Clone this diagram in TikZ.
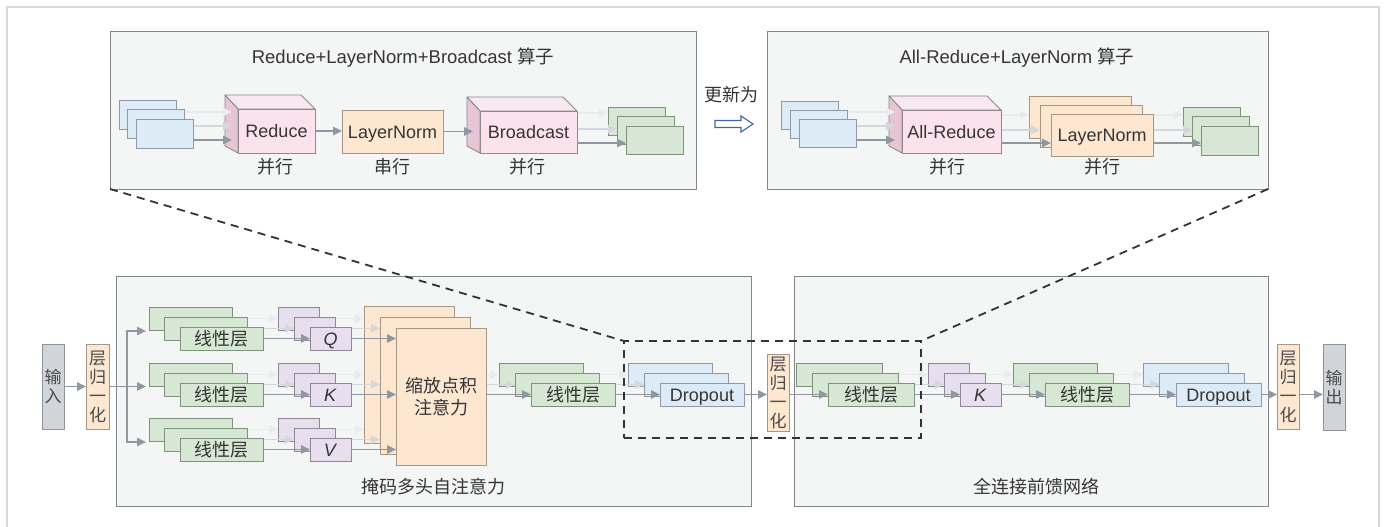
\documentclass[tikz,border=0pt]{standalone}
\usepackage{fontspec}
\setmainfont{Liberation Sans}
\newfontfamily\cjk{Noto Sans CJK SC}
\usetikzlibrary{arrows.meta,calc}

\definecolor{cFrame}{HTML}{D9D9D9}
\definecolor{cPanelF}{HTML}{F4F5F5}
\definecolor{cPanelD}{HTML}{80868A}
\definecolor{cBlueF}{HTML}{DCEBF6}
\definecolor{cBlueD}{HTML}{8D9BA8}
\definecolor{cGrF}{HTML}{D6E8D3}
\definecolor{cGrD}{HTML}{7E927D}
\definecolor{cPuF}{HTML}{E8DFEE}
\definecolor{cPuD}{HTML}{8E8796}
\definecolor{cOrF}{HTML}{FDE7D1}
\definecolor{cOrD}{HTML}{A59787}
\definecolor{cCubeF}{HTML}{FBE2EC}
\definecolor{cCubeS}{HTML}{E8C5D4}
\definecolor{cCubeT}{HTML}{F8E8EF}
\definecolor{cCubeD}{HTML}{8E8A8C}
\definecolor{cInF}{HTML}{D1D4D9}
\definecolor{cInD}{HTML}{8E949A}
\definecolor{cArr}{HTML}{8F98A1}
\definecolor{cArrL}{HTML}{D5D8DB}
\definecolor{cArrLL}{HTML}{E9EBEC}
\definecolor{cDash}{HTML}{2F3537}
\definecolor{cBlueArr}{HTML}{4065AA}
\definecolor{cTxt}{HTML}{353535}
\definecolor{cVTxt}{HTML}{4A4A4A}

\pgfdeclarelayer{bglayer}
\pgfdeclarelayer{facelayer}
\pgfdeclarelayer{lb}
\pgfdeclarelayer{ab}
\pgfdeclarelayer{lm}
\pgfdeclarelayer{am}
\pgfdeclarelayer{af}
\pgfsetlayers{bglayer,facelayer,lb,ab,lm,am,main,af}

\newcommand\myfs{\fontsize{18}{21}\selectfont}
\newcommand\mybox[7]{\node[#1,anchor=north west,minimum width={(#5)-(#3)},minimum height={(#6)-(#4)}] (#2) at ({#3},{#4}) {#7};}
\newcommand\mystack[9]{%
 \begin{pgfonlayer}{lb}\mybox{#1}{#2a}{#3}{#4}{#5}{#6}{}\end{pgfonlayer}%
 \begin{pgfonlayer}{lm}\mybox{#1}{#2b}{#3+#7}{#4+#8}{#5+#7}{#6+#8}{}\end{pgfonlayer}%
 \mybox{#1}{#2c}{#3+2*#7}{#4+2*#8}{#5+2*#7}{#6+2*#8}{#9}}
\newcommand\linkstk[2]{%
 \begin{pgfonlayer}{ab}\draw[llarr] (#1a.east) -- (#1a.east -| #2a.west);\end{pgfonlayer}%
 \begin{pgfonlayer}{am}\draw[larr] (#1b.east) -- (#1b.east -| #2b.west);\end{pgfonlayer}%
 \begin{pgfonlayer}{af}\draw[garr] (#1c.east) -- (#1c.east -| #2c.west);\end{pgfonlayer}}
\newcommand\cubefaces[1]{%
 \begin{pgfonlayer}{facelayer}
 \filldraw[cubetopS] (#1.north west) -- ++(-13,-14) -- ($(#1.north east)+(-14,-14)$) -- (#1.north east) -- cycle;
 \filldraw[cubesideS] (#1.north west) -- ++(-13,-14) -- ($(#1.south west)+(-13,-7)$) -- (#1.south west) -- cycle;
 \end{pgfonlayer}}

\tikzset{
 box/.style={inner sep=0pt, outer sep=0pt, line width=0.9pt, text=cTxt, font=\myfs},
 lat/.style={text height=13pt, text depth=0pt},
 bluebox/.style={box, lat, fill=cBlueF, draw=cBlueD},
 grbox/.style={box, fill=cGrF, draw=cGrD, font=\cjk\myfs},
 pubox/.style={box, lat, fill=cPuF, draw=cPuD},
 orbox/.style={box, lat, fill=cOrF, draw=cOrD},
 attbox/.style={box, fill=cOrF, draw=cOrD, font={\cjk\fontsize{18}{22}\selectfont}, align=center},
 cubef/.style={box, lat, fill=cCubeF, draw=cCubeD},
 cubetopS/.style={fill=cCubeT, draw=cCubeD, line width=0.9pt, line join=round},
 cubesideS/.style={fill=cCubeS, draw=cCubeD, line width=0.9pt, line join=round},
 vbox/.style={box, fill=cOrF, draw=cOrD, font={\cjk\fontsize{17}{19}\selectfont}, align=center, text=cVTxt},
 inbox/.style={vbox, fill=cInF, draw=cInD},
 panel/.style={inner sep=0pt, outer sep=0pt, fill=cPanelF, draw=cPanelD, line width=1pt},
 dashbox/.style={inner sep=0pt, outer sep=0pt, draw=cDash, line width=1.8pt, dash pattern=on 8pt off 6pt},
 dashl/.style={draw=cDash, line width=1.8pt, dash pattern=on 8pt off 6pt},
 garr/.style={draw=cArr, line width=1.3pt, -{Triangle[length=9pt,width=8.5pt]}},
 larr/.style={garr, draw=cArrL},
 llarr/.style={garr, draw=cArrLL},
 lbl/.style={text=cTxt, font=\cjk\myfs, inner sep=0pt},
 ttl/.style={text=cTxt, font=\fontsize{18.5}{21}\selectfont, inner sep=0pt},
}

\begin{document}
\begin{tikzpicture}[x=1pt,y=-1pt]
\useasboundingbox (0,0) rectangle (1386,527);

\begin{pgfonlayer}{bglayer}
\draw[cFrame, line width=1.6pt] (7,7) rectangle (1379,560);
\mybox{panel}{p1}{110}{32}{696}{189}{}
\mybox{panel}{p2}{767}{32}{1268}{189}{}
\mybox{panel}{m1}{116}{276}{751}{506}{}
\mybox{panel}{m2}{794}{276}{1268}{506}{}
\end{pgfonlayer}

% ---------- top panel 1 ----------
\node[ttl] (t1) at (403,58) {Reduce+LayerNorm+Broadcast {\cjk 算子}};
\mystack{bluebox}{b1}{119}{100}{176}{129}{8.5}{9.5}{}
\mybox{cubef}{c1}{238}{109}{315}{153}{Reduce}
\cubefaces{c1}
\mybox{orbox}{ln1}{342}{110}{443}{153}{LayerNorm}
\mybox{cubef}{c2}{480}{111}{577}{153}{Broadcast}
\cubefaces{c2}
\mystack{grbox}{g1}{608}{107}{665}{135}{9}{9.5}{}
\coordinate (c1l) at ($(c1.west)+(-6,0)$);
\coordinate (c2l) at ($(c2.west)+(-7,0)$);
\begin{pgfonlayer}{ab}
\draw[llarr] (b1a.east |- 0,112) -- (c1l |- 0,112);
\draw[llarr] (c2.east |- 0,113) -- (g1a.west |- 0,113);
\end{pgfonlayer}
\begin{pgfonlayer}{am}
\draw[larr] (b1b.east |- 0,126) -- (c1l |- 0,126);
\draw[larr] (c2.east |- 0,129) -- (g1b.west |- 0,129);
\end{pgfonlayer}
\begin{pgfonlayer}{af}
\draw[garr] (b1c.east |- 0,140) -- (c1l |- 0,140);
\draw[garr] (c1.east) -- (c1.east -| ln1.west);
\draw[garr] (ln1.east) -- (ln1.east -| c2l);
\draw[garr] (c2.east |- 0,143) -- (g1c.west |- 0,143);
\end{pgfonlayer}
\node[lbl] (s1) at (275,167) {并行};
\node[lbl] (s2) at (392,167) {串行};
\node[lbl] (s3) at (527,167) {并行};

% ---------- update arrow ----------
\node[lbl] (upd) at (731,95) {更新为};
\draw[draw=cBlueArr, fill=white, line width=1.1pt, line join=miter]
 (715,120.5) -- (741,120.5) -- (741,116) -- (753,124) -- (741,132) -- (741,127.5) -- (715,127.5) -- cycle;

% ---------- top panel 2 ----------
\node[ttl] (t2) at (1017,58) {All-Reduce+LayerNorm {\cjk 算子}};
\mystack{bluebox}{b2}{781}{101}{838}{129}{9}{9}{}
\mybox{cubef}{c3}{902}{110}{1001}{153}{All-Reduce}
\cubefaces{c3}
\mystack{orbox}{ln2}{1029}{96}{1131}{138}{11}{9}{LayerNorm}
\mystack{grbox}{g2}{1183}{107}{1240}{136}{9}{9.5}{}
\coordinate (c3l) at ($(c3.west)+(-7,0)$);
\begin{pgfonlayer}{ab}
\draw[llarr] (b2a.east |- 0,112) -- (c3l |- 0,112);
\draw[llarr] (c3.east |- 0,115) -- (ln2a.west |- 0,115);
\draw[llarr] (ln2a.east |- 0,115) -- (g2a.west |- 0,115);
\end{pgfonlayer}
\begin{pgfonlayer}{am}
\draw[larr] (b2b.east |- 0,126) -- (c3l |- 0,126);
\draw[larr] (c3.east |- 0,130) -- (ln2b.west |- 0,130);
\draw[larr] (ln2b.east |- 0,130) -- (g2b.west |- 0,130);
\end{pgfonlayer}
\begin{pgfonlayer}{af}
\draw[garr] (b2c.east |- 0,140) -- (c3l |- 0,140);
\draw[garr] (c3.east |- 0,143) -- (ln2c.west |- 0,143);
\draw[garr] (ln2c.east |- 0,143) -- (g2c.west |- 0,143);
\end{pgfonlayer}
\node[lbl] (s4) at (947,167) {并行};
\node[lbl] (s5) at (1102,167) {并行};

% ---------- bottom ----------
\mybox{inbox}{inp}{42}{344}{64}{429}{输\\入}
\mybox{vbox}{n1}{86}{344}{109}{429}{层\\归\\一\\化}
\mybox{vbox}{n2}{767}{354}{789}{431}{层\\归\\一\\化}
\mybox{vbox}{n3}{1277}{344}{1299}{429}{层\\归\\一\\化}
\mybox{inbox}{outp}{1323}{344}{1345}{430}{输\\出}

\mystack{grbox}{l1}{149}{307}{232}{330}{15.5}{10}{线性层}
\mystack{grbox}{l2}{149}{363}{232}{386}{15.5}{10}{线性层}
\mystack{grbox}{l3}{149}{418}{232}{441}{15.5}{10}{线性层}
\mystack{pubox}{q}{278}{307}{319}{330}{16}{10}{\textit{Q}}
\mystack{pubox}{k}{278}{363}{319}{386}{16}{10}{\textit{K}}
\mystack{pubox}{v}{278}{418}{319}{441}{16}{10}{\textit{V}}
\mystack{attbox}{att}{364}{306}{454}{443}{16}{11}{缩放点积\\注意力}
\mystack{grbox}{l4}{499}{363}{583}{386}{16}{10}{线性层}
\mystack{bluebox}{d1}{628}{363}{712}{386}{16}{10}{Dropout}
\mystack{grbox}{l5}{796}{363}{882}{386}{16}{10}{线性层}
\mystack{pubox}{k2}{928}{363}{969}{386}{16}{10}{\textit{K}}
\mystack{grbox}{l6}{1013}{363}{1097}{386}{16}{10}{线性层}
\mystack{bluebox}{d2}{1143}{363}{1228}{386}{16.5}{10}{Dropout}

\linkstk{l1}{q}
\linkstk{l2}{k}
\linkstk{l3}{v}
\linkstk{q}{att}
\linkstk{k}{att}
\linkstk{v}{att}
\linkstk{l4}{d1}
\linkstk{l5}{k2}
\linkstk{k2}{l6}
\linkstk{l6}{d2}
\begin{pgfonlayer}{ab}\draw[llarr] (attc.east |- l4a.center) -- (l4a.west);\end{pgfonlayer}
\begin{pgfonlayer}{am}\draw[larr] (attc.east |- l4b.center) -- (l4b.west);\end{pgfonlayer}

\coordinate (br) at (127,0);
\begin{pgfonlayer}{af}
\draw[garr] (attc.east |- l4c.center) -- (l4c.west);
\draw[garr] (inp.east) -- (n1.west);
\draw[garr, shorten >=3pt] (n1.east) -- (n1.east -| l2a.west);
\draw[garr, shorten >=3pt] (n1.east -| br) |- (l1a.west |- 0,331);
\draw[garr, shorten >=3pt] (n1.east -| br) |- (l3a.west |- 0,442);
\draw[garr] (d1c.east) -- (d1c.east -| n2.west);
\draw[garr] (n2.east |- l5c.center) -- (l5c.west);
\draw[garr] (d2c.east) -- (d2c.east -| n3.west);
\draw[garr] (n3.east |- d2c.center) -- (outp.west |- d2c.center);
\end{pgfonlayer}

\node[lbl] (ml1) at (433,487) {掩码多头自注意力};
\node[lbl] (ml2) at (1036,487) {全连接前馈网络};

\begin{pgfonlayer}{af}
\mybox{dashbox}{dr}{624}{341}{921}{438}{}
\draw[dashl] (p1.south west) -- (dr.north west);
\draw[dashl] (p2.south east) -- (dr.north east);
\end{pgfonlayer}
\end{tikzpicture}
\end{document}
